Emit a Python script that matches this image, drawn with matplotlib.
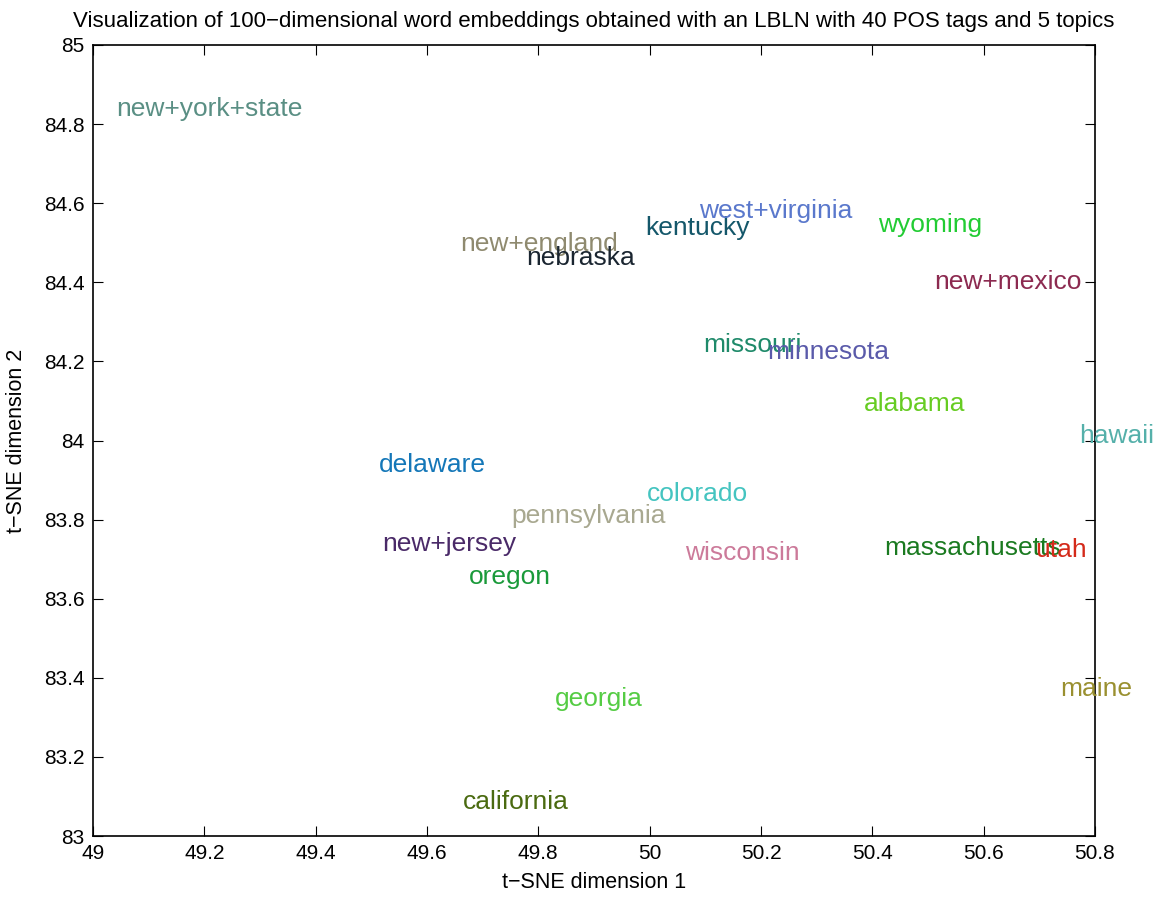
import matplotlib
matplotlib.use("Agg")
import matplotlib.pyplot as plt

# word labels and their t-SNE coordinates
words = ["new+york+state", "new+england", "nebraska", "kentucky", "west+virginia",
         "wyoming", "new+mexico", "missouri", "minnesota", "alabama", "hawaii",
         "delaware", "colorado", "pennsylvania", "new+jersey", "oregon", "wisconsin",
         "massachusetts", "utah", "maine", "georgia", "california"]
x_vals = [49.041, 49.659, 49.778, 49.993, 50.089,
          50.410, 50.511, 50.096, 50.211, 50.385, 50.771,
          49.514, 49.995, 49.751, 49.519, 49.675, 50.063,
          50.421, 50.692, 50.737, 49.830, 49.665]
y_vals = [84.838, 84.497, 84.461, 84.537, 84.580,
          84.545, 84.401, 84.241, 84.224, 84.092, 84.011,
          83.938, 83.865, 83.809, 83.738, 83.655, 83.716,
          83.728, 83.723, 83.372, 83.346, 83.086]
colors = ["#5a8f84", "#8f8a6f", "#1a2530", "#14576a", "#5a78cc",
          "#22cc33", "#8c2a50", "#1f8a6a", "#5a5aaa", "#66cc22", "#55b0aa",
          "#1477b8", "#44c4c0", "#a8a890", "#4a2a68", "#1a9a3a", "#cc7a9a",
          "#1a7a20", "#d42a1a", "#9a9030", "#55cc44", "#4a6a10"]

x_ticks = [49, 49.2, 49.4, 49.6, 49.8, 50, 50.2, 50.4, 50.6, 50.8]
y_ticks = [83, 83.2, 83.4, 83.6, 83.8, 84, 84.2, 84.4, 84.6, 84.8, 85]

plt.rcParams['font.family'] = ['Liberation Sans', 'DejaVu Sans']

fig = plt.figure(figsize=(11.65, 8.98), dpi=100)
ax = fig.add_axes([0.0798, 0.069, 0.8601, 0.8809])

for w, x, y, c in zip(words, x_vals, y_vals, colors):
    ax.text(x, y, w, color=c, fontsize=19, ha='left', va='center', clip_on=False)

ax.set_xlim(49, 50.8)
ax.set_ylim(83, 85)
ax.set_xticks(x_ticks)
ax.set_xticklabels([f"{t:g}" for t in x_ticks])
ax.set_yticks(y_ticks)
ax.set_yticklabels([f"{t:g}" for t in y_ticks])
ax.tick_params(direction='in', top=True, right=True, labelsize=15, length=7, width=0.8)
ax.tick_params(axis='x', pad=6)
ax.tick_params(axis='y', pad=6)
for s in ax.spines.values():
    s.set_linewidth(1.2)

ax.set_xlabel("t\u2212SNE dimension 1", fontsize=15.5, labelpad=6)
ax.set_ylabel("t\u2212SNE dimension 2", fontsize=15.5, labelpad=12)
ax.set_title("Visualization of 100\u2212dimensional word embeddings obtained with an LBLN with 40 POS tags and 5 topics",
             fontsize=16, pad=13)

fig.savefig("out.png", dpi=100)
